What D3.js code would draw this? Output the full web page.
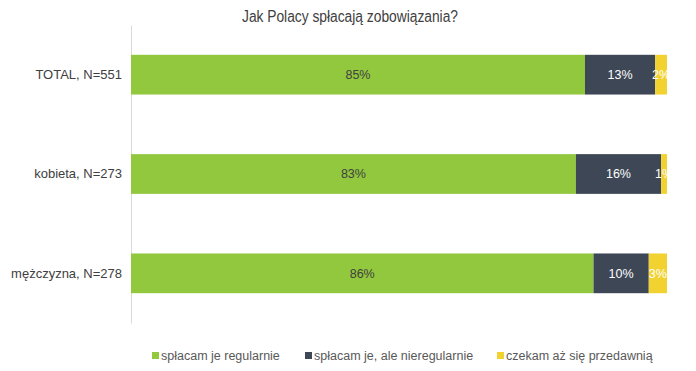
<!DOCTYPE html>
<html>
<head>
<meta charset="utf-8">
<script src="https://cdn.jsdelivr.net/npm/d3@7"></script>
<style>
  body { margin: 0; background: #fff; }
  text { font-family: "Liberation Sans", Arial, sans-serif; }
</style>
</head>
<body>
<div id="chart"></div>
<script>
// data
const categories = ["TOTAL, N=551", "kobieta, N=273", "mężczyzna, N=278"];
const seriesNames = ["spłacam je regularnie", "spłacam je, ale nieregularnie", "czekam aż się przedawnią"];
const regular = [84.7, 83.0, 86.2];
const irregular = [13.1, 15.9, 10.3];
const waiting = [2.2, 1.1, 3.4];
const colors = ["#92c83e", "#3e4756", "#f2d230"];
const labelColors = ["#404040", "#ffffff", "#ffffff"];

const width = 696, height = 371;
const margin = {top: 25, right: 29, bottom: 48, left: 131};
const innerW = width - margin.left - margin.right,
  innerH = height - margin.top - margin.bottom;

const rows = categories.map((c, i) => ({
  cat: c, s0: regular[i], s1: irregular[i], s2: waiting[i]
}));
const stack = d3.stack().keys(["s0", "s1", "s2"]).offset(d3.stackOffsetExpand);
const layers = stack(rows);

const svg = d3.select("#chart").append("svg")
  .attr("width", width)
  .attr("height", height);

// title: narrow face to match the condensed look
const title = svg.append("text")
  .attr("x", 350)
  .attr("y", 22)
  .attr("text-anchor", "middle")
  .attr("font-size", 16)
  .attr("fill", "#404040")
  .style("font-family", "'Liberation Sans Narrow', 'Liberation Sans', Arial, sans-serif")
  .text("Jak Polacy spłacają zobowiązania?");
// keep the title at its measured width whichever face is found
title.attr("textLength", 216).attr("lengthAdjust", "spacingAndGlyphs");

const g = svg.append("g")
  .attr("transform", `translate(${margin.left},${margin.top})`);

svg.append("clipPath").attr("id", "plotclip")
  .append("rect").attr("width", innerW).attr("height", innerH);

const x = d3.scaleLinear().domain([0, 1]).range([0, innerW]);
const y = d3.scaleBand().domain(categories).range([0, innerH]).paddingInner(0.6).paddingOuter(0.3);

// category axis
const yAxis = g.append("g").call(d3.axisLeft(y).tickSize(0).tickPadding(9));
yAxis.select(".domain").attr("stroke", "#d9d9d9");
yAxis.selectAll("text").attr("font-size", 13).attr("fill", "#404040")
  .style("font-family", "'Liberation Sans', Arial, sans-serif");

const plot = g.append("g").attr("clip-path", "url(#plotclip)");

layers.forEach((layer, k) => {
  plot.selectAll(".bar" + k)
    .data(layer)
    .enter().append("rect")
    .attr("x", d => x(d[0]))
    .attr("width", d => x(d[1]) - x(d[0]))
    .attr("y", d => y(d.data.cat))
    .attr("height", y.bandwidth())
    .attr("fill", colors[k]);

  plot.selectAll(".lbl" + k)
    .data(layer)
    .enter().append("text")
    .attr("x", d => (x(d[0]) + x(d[1])) / 2)
    .attr("y", d => y(d.data.cat) + y.bandwidth() / 2)
    .attr("dy", "0.35em")
    .attr("text-anchor", "middle")
    .attr("font-size", 12.5)
    .attr("fill", labelColors[k])
    .text(d => Math.round(d.data[layer.key]) + "%");
});

// legend
const legendX = [152, 305, 497];
const legend = svg.append("g").attr("transform", "translate(0,356)");
seriesNames.forEach((name, i) => {
  legend.append("rect")
    .attr("x", legendX[i]).attr("y", -4)
    .attr("width", 7).attr("height", 7)
    .attr("fill", colors[i]);
  legend.append("text")
    .attr("x", legendX[i] + 9).attr("y", 0)
    .attr("dy", "0.35em")
    .attr("font-size", 12.5)
    .attr("fill", "#595959")
    .text(name);
});
</script>
</body>
</html>
